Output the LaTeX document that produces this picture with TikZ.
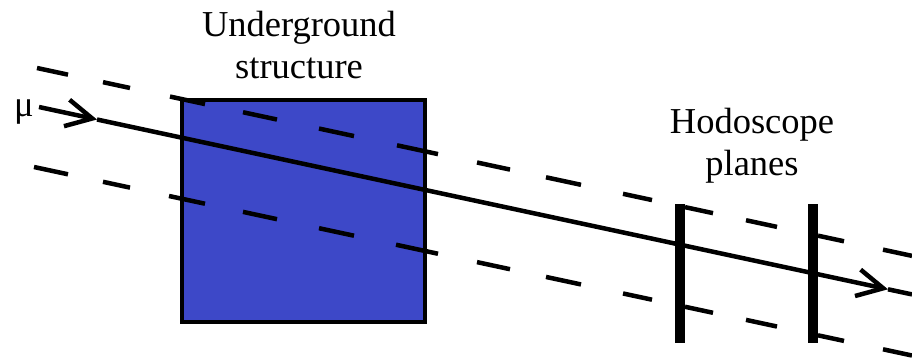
\documentclass[tikz,border=0pt]{standalone}
\usepackage{fontspec}
\setmainfont{Liberation Serif}
\usetikzlibrary{arrows.meta}
\definecolor{structblue}{RGB}{61,72,200}
\tikzset{
  lbl/.style={inner sep=0pt, font=\fontsize{36.5}{42}\selectfont, align=center},
  dashseg/.style={line width=4.5pt, line cap=butt},
  muline/.style={line width=4.5pt, line join=miter},
  barb/.style={-{Straight Barb[length=26pt,width=27pt,line width=4.5pt]}},
  plane/.style={line width=10pt, line cap=butt},
  boxstyle/.style={draw=black, fill=structblue, line width=3.5pt, inner sep=0pt, outer sep=0pt, minimum width=243pt, minimum height=222pt}
}
\begin{document}
\begin{tikzpicture}[x=1pt,y=-1pt]
\useasboundingbox (0,0) rectangle (912,361);
% underground structure
\node[boxstyle] (box) at (303.5,211) {};
% dashed envelope lines
\foreach \a/\b in {37/68,103/130,170/205,243/277,319/354,397/438,477/510,546/581,623/652,685/713,746/777,818/844,883/912}{
  \draw[dashseg] (\a,{60.06+0.2147*\a}) -- (\b,{60.06+0.2147*\b});
}
\foreach \a/\b in {34/68,103/130,169/205,243/277,319/354,396/438,477/510,546/581,623/652,685/713,746/777,818/844,883/912}{
  \draw[dashseg] (\a,{159.7+0.2147*\a}) -- (\b,{159.7+0.2147*\b});
}
% hodoscope planes
\coordinate (p1top) at (680,204);
\coordinate (p1bot) at (680,343);
\coordinate (p2top) at (812.5,204);
\coordinate (p2bot) at (812.5,343);
\draw[plane] (p1top) -- (p1bot);
\draw[plane] (p2top) -- (p2bot);
% muon track
\coordinate (mustart) at (39,107);
\coordinate (a1) at (97,119.5);
\coordinate (a2) at (888,289.3);
\coordinate (muend) at (912,294.4);
\draw[muline, barb] (mustart) -- (a1);
\draw[muline, barb] (a1) -- (a2);
\draw[muline] (a2) -- (muend);
% labels
\node[lbl, anchor=north] (ug) at (299,11) {Underground\\structure};
\node[lbl, anchor=north] (hodo) at (752,108) {Hodoscope\\planes};
\node[lbl, anchor=base west] (mu) at (14,116) {μ};
\end{tikzpicture}
\end{document}
